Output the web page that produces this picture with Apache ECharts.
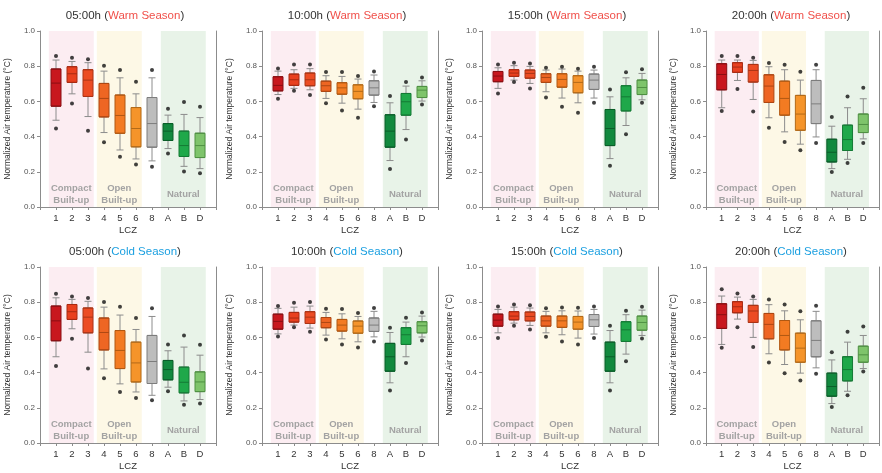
<!DOCTYPE html>
<html>
<head>
<meta charset="utf-8">
<script src="https://cdn.jsdelivr.net/npm/echarts@6/dist/echarts.min.js"></script>
<style>
html,body{margin:0;padding:0;background:#fff;}
#chart{width:882px;height:473px;}
</style>
</head>
<body>
<div id="chart"></div>
<script>
// ---- DATA ----
const categories = ['1','2','3','4','5','6','8','A','B','D'];
const hours = ['05:00h','10:00h','15:00h','20:00h'];
const seasons = ['Warm Season','Cold Season'];
const zoneNames = ['Compact\nBuilt-up','Open\nBuilt-up','Natural'];
const zoneFrom = ['1','4','A'];
const zoneTo = ['3','6','D'];
// each row: [lowDot, lowWhisker, Q1, median, Q3, highWhisker, highDot]
const warm05 = [
 [0.446,0.493,0.573,0.704,0.784,0.835,0.858],
 [0.588,0.643,0.708,0.757,0.797,0.827,0.848],
 [0.433,0.514,0.628,0.721,0.780,0.820,0.839],
 [0.368,0.423,0.512,0.617,0.702,0.772,0.803],
 [0.285,0.324,0.419,0.520,0.636,0.734,0.778],
 [0.241,0.273,0.342,0.446,0.565,0.643,0.712],
 [0.228,0.262,0.340,0.474,0.622,0.734,0.778],
 [0.304,0.332,0.378,0.431,0.474,0.522,0.558],
 [0.201,0.231,0.287,0.349,0.431,0.526,0.596],
 [0.192,0.218,0.281,0.349,0.419,0.508,0.569]];
const warm10 = [
 [0.615,0.639,0.660,0.691,0.740,0.772,0.787],
 [0.660,0.674,0.691,0.723,0.755,0.780,0.810],
 [0.636,0.666,0.689,0.723,0.761,0.786,0.810],
 [0.590,0.617,0.657,0.689,0.715,0.746,0.767],
 [0.548,0.590,0.641,0.677,0.706,0.742,0.767],
 [0.507,0.556,0.615,0.657,0.694,0.727,0.744],
 [0.573,0.594,0.636,0.677,0.717,0.750,0.770],
 [0.216,0.264,0.340,0.431,0.524,0.592,0.630],
 [0.383,0.440,0.522,0.598,0.645,0.687,0.710],
 [0.583,0.602,0.622,0.664,0.685,0.717,0.736]];
const warm15 = [
 [0.645,0.674,0.712,0.744,0.770,0.791,0.810],
 [0.710,0.721,0.742,0.761,0.780,0.803,0.820],
 [0.674,0.702,0.732,0.759,0.778,0.799,0.816],
 [0.622,0.655,0.708,0.736,0.757,0.778,0.791],
 [0.569,0.619,0.681,0.725,0.757,0.784,0.797],
 [0.535,0.592,0.649,0.708,0.746,0.772,0.786],
 [0.592,0.619,0.668,0.721,0.755,0.778,0.797],
 [0.235,0.275,0.349,0.446,0.554,0.626,0.668],
 [0.414,0.463,0.546,0.626,0.689,0.734,0.765],
 [0.592,0.609,0.639,0.679,0.721,0.759,0.782]];
const warm20 = [
 [0.545,0.564,0.666,0.753,0.814,0.835,0.858],
 [0.670,0.719,0.765,0.795,0.820,0.835,0.858],
 [0.543,0.611,0.710,0.776,0.810,0.833,0.848],
 [0.450,0.507,0.594,0.687,0.751,0.797,0.818],
 [0.370,0.427,0.522,0.617,0.715,0.780,0.808],
 [0.323,0.357,0.436,0.528,0.634,0.721,0.769],
 [0.364,0.398,0.474,0.586,0.719,0.780,0.808],
 [0.199,0.218,0.256,0.311,0.385,0.459,0.512],
 [0.250,0.271,0.321,0.383,0.465,0.564,0.628],
 [0.364,0.387,0.423,0.469,0.528,0.615,0.677]];
const cold05 = [
 [0.438,0.490,0.581,0.694,0.778,0.825,0.848],
 [0.592,0.649,0.702,0.746,0.787,0.816,0.833],
 [0.423,0.516,0.626,0.715,0.767,0.805,0.824],
 [0.368,0.421,0.529,0.628,0.710,0.772,0.801],
 [0.290,0.336,0.423,0.526,0.639,0.727,0.774],
 [0.256,0.290,0.347,0.455,0.573,0.645,0.710],
 [0.243,0.271,0.338,0.463,0.611,0.719,0.765],
 [0.294,0.317,0.359,0.417,0.469,0.524,0.560],
 [0.218,0.239,0.285,0.345,0.431,0.545,0.611],
 [0.224,0.247,0.292,0.347,0.404,0.499,0.558]];
const cold10 = [
 [0.605,0.620,0.647,0.691,0.732,0.765,0.778],
 [0.657,0.670,0.687,0.710,0.742,0.772,0.797],
 [0.632,0.653,0.679,0.715,0.746,0.778,0.801],
 [0.588,0.613,0.655,0.685,0.713,0.742,0.763],
 [0.560,0.592,0.636,0.670,0.702,0.734,0.761],
 [0.543,0.575,0.624,0.664,0.693,0.719,0.738],
 [0.577,0.603,0.634,0.670,0.710,0.748,0.767],
 [0.298,0.342,0.408,0.490,0.566,0.628,0.655],
 [0.455,0.490,0.560,0.615,0.655,0.687,0.712],
 [0.583,0.602,0.626,0.666,0.689,0.721,0.742]];
const cold15 = [
 [0.596,0.626,0.664,0.698,0.732,0.759,0.776],
 [0.666,0.681,0.700,0.721,0.746,0.772,0.787],
 [0.645,0.668,0.694,0.719,0.744,0.767,0.782],
 [0.603,0.626,0.664,0.694,0.721,0.748,0.765],
 [0.577,0.615,0.657,0.694,0.721,0.751,0.770],
 [0.560,0.596,0.647,0.687,0.719,0.750,0.769],
 [0.596,0.619,0.662,0.700,0.730,0.759,0.776],
 [0.298,0.342,0.408,0.490,0.573,0.639,0.666],
 [0.465,0.505,0.577,0.643,0.689,0.729,0.751],
 [0.594,0.611,0.641,0.685,0.721,0.755,0.774]];
const cold20 = [
 [0.541,0.560,0.651,0.729,0.791,0.835,0.873],
 [0.657,0.704,0.740,0.774,0.803,0.829,0.850],
 [0.546,0.600,0.685,0.750,0.782,0.816,0.833],
 [0.457,0.507,0.592,0.674,0.736,0.786,0.816],
 [0.397,0.446,0.529,0.611,0.696,0.751,0.787],
 [0.355,0.397,0.459,0.539,0.624,0.700,0.748],
 [0.393,0.427,0.490,0.583,0.694,0.748,0.780],
 [0.205,0.224,0.266,0.321,0.397,0.472,0.516],
 [0.271,0.294,0.353,0.417,0.490,0.573,0.632],
 [0.406,0.423,0.459,0.501,0.550,0.611,0.662]];
const panelData = [[warm05, warm10, warm15, warm20], [cold05, cold10, cold15, cold20]];

// ---- STYLE ----
const boxFill = ['#c8171e','#e9401f','#ec4c24','#ee6623','#f37b22','#f5942a','#bdbdbd','#12893e','#1fa84a','#7ec46b'];
const boxEdge = ['#8a0e12','#a82a12','#aa3416','#ad4713','#b05812','#b36a18','#7d7d7d','#0a5e29','#147a35','#4f9043'];
const zoneColors = ['#fcedf2','#fdf8e6','#e8f3e8'];
const seasonColors = ['#f0504a','#1a9fe0'];
const gridLefts = [40, 262, 482, 706];
const gridTops = [31, 267];
const titleTops = [10, 246];
const FONT = 'Liberation Sans, Arial, Helvetica, sans-serif';
const axisGrey = '#8c8c8c';

const slots = [''].concat(categories, ['']);
const option = {animation:false, textStyle:{fontFamily:FONT}, title:[], grid:[], xAxis:[], yAxis:[], series:[]};

for (let r = 0; r < 2; r++) {
  for (let c = 0; c < 4; c++) {
    const idx = r*4 + c;
    const rows = panelData[r][c];
    const gl = gridLefts[c], gt = gridTops[r];
    const xMain = 3*idx, xVal = 3*idx+1, xWh = 3*idx+2, yMain = 2*idx;
    option.title.push({
      text: '{b|' + hours[c] + ' (}{s|' + seasons[r] + '}{b|)}',
      left: gl + 85, top: titleTops[r], textAlign: 'center', padding: 0,
      textStyle: {fontSize: 11.5, fontWeight: 'normal', fontFamily: FONT,
        rich: {b: {fontSize: 11.5, color: '#333', fontFamily: FONT},
               s: {fontSize: 11.5, color: seasonColors[r], fontFamily: FONT}}}
    });
    option.grid.push({left: gl, top: gt, width: 176, height: 176});
    option.xAxis.push({
      type: 'category', gridIndex: idx, data: slots, boundaryGap: false,
      axisLine: {lineStyle: {color: axisGrey}},
      axisTick: {length: 3, interval: 0, lineStyle: {color: axisGrey}},
      axisLabel: {interval: 0, fontSize: 9.5, color: '#333', margin: 6, fontFamily: FONT},
      name: 'LCZ', nameLocation: 'middle', nameGap: 18,
      nameTextStyle: {fontSize: 9.5, color: '#333', fontFamily: FONT}
    });
    option.xAxis.push({type: 'value', gridIndex: idx, min: 0, max: 11, show: false});
    option.xAxis.push({type: 'category', gridIndex: idx, data: slots, boundaryGap: false, show: false});
    option.yAxis.push({
      type: 'value', gridIndex: idx, min: 0, max: 1, interval: 0.2,
      axisLine: {show: true, lineStyle: {color: axisGrey}},
      axisTick: {show: true, length: 3, lineStyle: {color: axisGrey}},
      splitLine: {show: false},
      axisLabel: {fontSize: 8, color: '#555', margin: 5, fontFamily: FONT, formatter: v => v.toFixed(1)},
      name: 'Normalized Air temperature (°C)', nameLocation: 'middle', nameGap: 28,
      nameTextStyle: {fontSize: 8.5, color: '#333', fontFamily: FONT}
    });
    option.yAxis.push({
      type: 'value', gridIndex: idx, min: 0, max: 1, position: 'right',
      axisLine: {show: true, lineStyle: {color: axisGrey}},
      axisTick: {show: false}, axisLabel: {show: false}, splitLine: {show: false}
    });
    // zone shading
    option.series.push({
      type: 'line', xAxisIndex: xVal, yAxisIndex: yMain, data: [], symbol: 'none', silent: true, z: 1,
      markArea: {
        silent: true,
        data: zoneNames.map((nm, k) => [
          {xAxis: slots.indexOf(zoneFrom[k]) - 0.45, name: nm,
           itemStyle: {color: zoneColors[k]},
           label: {show: true, position: ['50%', '100%'], offset: [0, -13], align: 'center', verticalAlign: 'middle',
                   color: '#a3a3a3', fontWeight: 'bold', fontSize: 9.5, lineHeight: 12, fontFamily: FONT}},
          {xAxis: slots.indexOf(zoneTo[k]) + 0.36}
        ])
      }
    });
    // whiskers (on their own hidden category axis so they are not grouped with the boxes)
    option.series.push({
      type: 'boxplot', xAxisIndex: xWh, yAxisIndex: yMain, z: 2, silent: true,
      boxWidth: [7, 7], encode: {x: 0, y: [1,2,3,4,5]},
      itemStyle: {color: '#ffffff', borderColor: '#8c8c8c', borderWidth: 1},
      data: rows.map((d, i) => [i+1, d[1], d[2], d[3], d[4], d[5]])
    });
    // boxes
    option.series.push({
      type: 'boxplot', xAxisIndex: xMain, yAxisIndex: yMain, z: 3, silent: true,
      boxWidth: [10, 10], encode: {x: 0, y: [1,2,3,4,5]},
      data: rows.map((d, i) => ({value: [i+1, d[2], d[2], d[3], d[4], d[4]],
        itemStyle: {color: boxFill[i], borderColor: boxEdge[i], borderWidth: 1}}))
    });
    // outlier dots
    const dots = [];
    rows.forEach((d, i) => { dots.push([i+1, d[0]]); dots.push([i+1, d[6]]); });
    option.series.push({
      type: 'scatter', xAxisIndex: xMain, yAxisIndex: yMain, z: 4, silent: true,
      symbolSize: 4, itemStyle: {color: '#111'}, data: dots
    });
  }
}

const chart = echarts.init(document.getElementById('chart'), null, {renderer: 'canvas'});
chart.setOption(option);
</script>
</body>
</html>
